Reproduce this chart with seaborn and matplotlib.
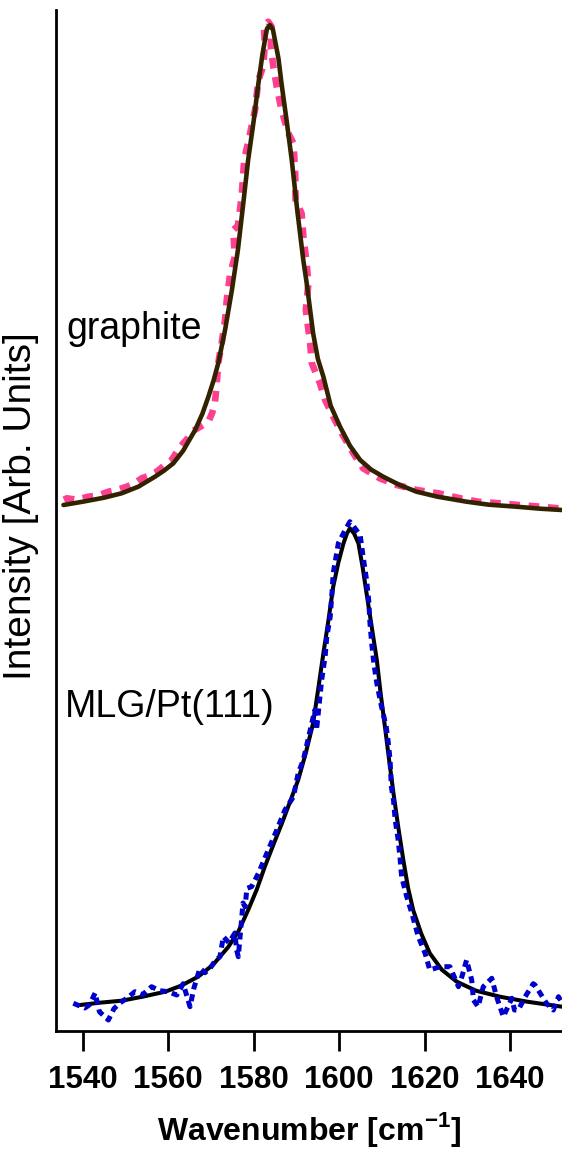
import matplotlib
matplotlib.use("Agg")
import matplotlib.pyplot as plt
import seaborn as sns

# Raman G band, intensities in arbitrary units
graphite_x = [1535.6, 1536.3, 1538.5, 1541.3, 1543.5, 1546.0, 1548.2, 1550.3, 1552.0, 1553.8,
              1555.5, 1557.3, 1559.0, 1560.8, 1562.2, 1563.5, 1564.5, 1565.5, 1567.5, 1569.4,
              1570.3, 1570.9, 1571.3, 1571.7, 1572.5, 1573.3, 1573.7, 1574.5, 1575.6, 1575.2,
              1576.3, 1577.2, 1577.8, 1578.8, 1580.3, 1581.1, 1582.2, 1582.6, 1582.4, 1583.4,
              1584.2, 1584.0, 1584.6, 1585.4, 1586.5, 1588.1, 1589.3, 1589.7, 1589.8, 1591.2,
              1591.7, 1592.3, 1592.8, 1592.2, 1593.2, 1593.6, 1595.5, 1596.7, 1598.6, 1600.6,
              1603.3, 1605.6, 1609.5, 1613.5, 1618.1, 1623.2, 1628.3, 1632.5, 1637.6, 1641.9,
              1647.0, 1651.3, 1652.1]
graphite_y = [531, 532.4, 531, 534, 535, 539, 541, 544, 547, 552.4,
              555, 559, 565, 570.7, 580, 587.4, 592, 599, 604, 609,
              618, 627.4, 644, 667.4, 687.4, 710.7, 730.7, 757.4, 774, 800.7,
              805, 835, 872, 890, 920.7, 950.7, 964, 985, 1005, 1009,
              1004, 985, 964, 944, 920.7, 897.4, 887.4, 857.4, 830.7, 817.4,
              790, 770.7, 747.4, 720.7, 687.4, 667.4, 647.4, 630.7, 614, 597.4,
              577.4, 562.4, 552.4, 545.7, 540.7, 537.4, 532.4, 529, 527.4, 525.7,
              524, 522.4, 522]

graphite_fit_x = [1535.5, 1540, 1545, 1549.1, 1553, 1556.9, 1559, 1561.2, 1563.5, 1566.3,
                  1568, 1569.4, 1570.6, 1571.7, 1573.3, 1574.9, 1576.3, 1577.5, 1578.7, 1580,
                  1581.1, 1582, 1582.8, 1583.1, 1583.8, 1584.5, 1585, 1585.8, 1586.5, 1587.7,
                  1588.9, 1590.2, 1591.6, 1592.4, 1593.9, 1595, 1596.3, 1598, 1600.2, 1602.5,
                  1604.9, 1607.5, 1610.3, 1614, 1618.1, 1623, 1629.8, 1635, 1641.5, 1647, 1652.1]
graphite_fit_y = [525.7, 529, 533, 537.4, 544, 554, 560, 567.4, 580, 600.7,
                  617, 634, 650, 667.4, 700.7, 740.7, 780.7, 825, 870.7, 910,
                  947.4, 975, 995, 1002, 1005.7, 1001, 990, 972, 947.4, 910,
                  870.7, 820, 770.7, 747.4, 697.4, 672, 654, 625, 604, 585,
                  570.7, 561, 554, 546, 539, 534, 529, 526, 524, 522, 520.7]

mlg_x = [1537.8, 1540.5, 1541.6, 1542.9, 1543.9, 1546.0, 1547.3, 1548.7, 1550.5, 1552.2,
         1554.0, 1556.1, 1558.0, 1560.0, 1562.0, 1563.5, 1565.1, 1566.0, 1567.4, 1568.6,
         1569.8, 1571.0, 1572.1, 1572.9, 1574.2, 1575.6, 1576.0, 1576.4, 1577.5, 1578.0,
         1578.4, 1579.5, 1581.1, 1583.4, 1585.4, 1587.3, 1589.3, 1590.4, 1591.6, 1594.3,
         1594.7, 1595.9, 1596.7, 1597.1, 1597.9, 1598.3, 1598.6, 1599.4, 1599.8, 1601.4,
         1602.5, 1604.9, 1605.6, 1606.4, 1606.9, 1607.2, 1607.6, 1608.1, 1608.8, 1609.9,
         1611.0, 1611.5, 1611.9, 1612.2, 1612.7, 1613.1, 1613.8, 1614.2, 1614.6, 1615.8,
         1617.0, 1618.5, 1620.1, 1621.2, 1623.6, 1625.9, 1627.9, 1628.7, 1629.8, 1631.0,
         1631.4, 1632.5, 1633.7, 1635.7, 1636.8, 1638.4, 1640.4, 1641.0, 1641.9, 1643.5,
         1645.4, 1645.8, 1648.5, 1650.1, 1651.3, 1652.1]
mlg_y = [27.4, 22.7, 26, 37.7, 19, 10.7, 22, 27.7, 33, 39,
         36, 44, 40, 39, 35.7, 47, 24, 42.4, 62.4, 58,
         62.4, 70, 74, 94, 88, 97.7, 80.7, 74, 127.7, 124,
         142.4, 144, 157.4, 180.7, 200.7, 220.7, 234, 257.4, 270.7, 320.7,
         300.7, 350.7, 374, 394, 414, 437.4, 457.4, 477.4, 487.4, 500.7,
         509, 495.7, 474, 450.7, 430.7, 407.4, 387.4, 367.4, 347.4, 324,
         304, 287.4, 270.7, 244, 230.7, 210.7, 190.7, 174, 154, 134,
         117.4, 94, 77.4, 60.7, 64, 64, 44, 54, 70.7, 50.7,
         30.7, 24, 44, 52.4, 34, 14, 32.4, 20.7, 20.7, 34,
         47, 45.7, 27.4, 20.7, 34, 28]

mlg_fit_x = [1539.4, 1544, 1549.1, 1554, 1559.3, 1563, 1567, 1570.5, 1574.1, 1576.5,
             1578.7, 1580.7, 1582.6, 1584.6, 1586.6, 1588.5, 1590.4, 1592.2, 1593.9, 1595.1,
             1596.3, 1597.5, 1598.6, 1599.8, 1601, 1601.8, 1602.5, 1603.5, 1604.5, 1605.5,
             1606.4, 1607.6, 1608.8, 1609.7, 1610.7, 1611.7, 1612.7, 1613.8, 1615, 1616.1,
             1617.3, 1619.2, 1621.2, 1624, 1627.5, 1632, 1637.6, 1644, 1652.1]
mlg_fit_y = [25.7, 28, 30, 34, 39, 45, 54, 66, 84, 100,
             120.7, 141, 164, 186, 207.4, 229, 250.7, 278, 307.4, 342,
             377.4, 411, 444, 468, 487.4, 497, 502.4, 497, 487.4, 463,
             437.4, 404, 370.7, 337, 304, 270, 237.4, 204, 170.7, 143,
             120.7, 97, 77.4, 61, 49, 40, 34, 29, 24]

x_ticks = [1540, 1560, 1580, 1600, 1620, 1640]

sns.set_style("ticks")
plt.rcParams['font.family'] = ['Liberation Sans', 'DejaVu Sans']
plt.rcParams['mathtext.fontset'] = 'custom'
plt.rcParams['mathtext.rm'] = 'Liberation Sans'
plt.rcParams['mathtext.bf'] = 'Liberation Sans:bold'
plt.rcParams['text.color'] = 'black'
plt.rcParams['axes.labelcolor'] = 'black'

fig = plt.figure(figsize=(5.62, 11.53), dpi=100)
ax = fig.add_axes([55.7 / 562, 1 - 1030.7 / 1153, (562 - 55.7) / 562, 1020.7 / 1153])

sns.lineplot(x=graphite_x, y=graphite_y, ax=ax, color="#ff4090", linewidth=4.8,
             linestyle=(0, (1.6, 1.3)), sort=False, estimator=None, zorder=2)
sns.lineplot(x=graphite_fit_x, y=graphite_fit_y, ax=ax, color="#332200", linewidth=3.3,
             sort=False, estimator=None, zorder=3)
sns.lineplot(x=mlg_fit_x, y=mlg_fit_y, ax=ax, color="black", linewidth=2.9,
             sort=False, estimator=None, zorder=3)
sns.lineplot(x=mlg_x, y=mlg_y, ax=ax, color="#0000cc", linewidth=3.6,
             linestyle=(0, (1.4, 1.0)), sort=False, estimator=None, zorder=4)

ax.text(1536.2, 691.7, "graphite", fontsize=27, color="black")
ax.text(1535.9, 314, "MLG/Pt(111)", fontsize=27, color="black")

ax.set_xlim(1533.68, 1652.12)
ax.set_ylim(0, 1020.7)
ax.set_xticks(x_ticks)
ax.set_xticklabels([str(t) for t in x_ticks], fontsize=22.5, fontweight="bold", color="black")
ax.set_yticks([])
ax.tick_params(axis="x", direction="out", length=14.5, width=2, pad=10, colors="black")
for side in ["top", "right"]:
    ax.spines[side].set_visible(False)
for side in ["left", "bottom"]:
    ax.spines[side].set_linewidth(2)
    ax.spines[side].set_color("black")

ax.set_xlabel(r"Wavenumber [cm$^{\mathbf{-1}}$]", fontsize=23, fontweight="bold", labelpad=11)
ax.set_ylabel("Intensity [Arb. Units]", fontsize=28)
ax.yaxis.set_label_coords(-0.032, 0.514)

fig.savefig("out.png", dpi=100)
